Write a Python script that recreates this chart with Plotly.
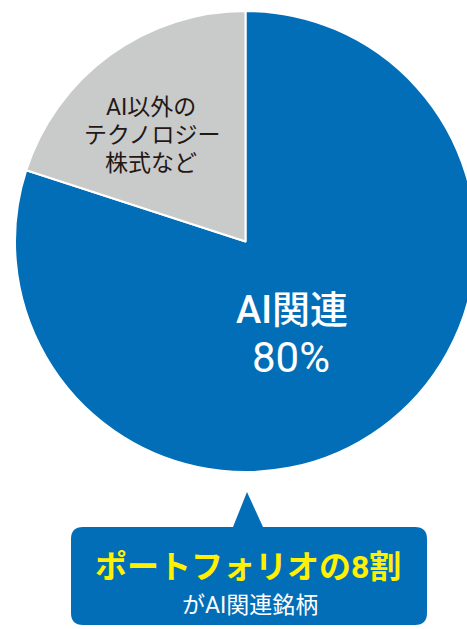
import plotly.graph_objects as go

# ---- data ----
categories = ["AI関連", "AI以外のテクノロジー株式など"]
values = [80, 20]
colors = ["#036EB8", "#C9CACA"]

label_ai_lines = ["AI関連", "80%"]
label_other_lines = ["AI以外の", "テクノロジー", "株式など"]
callout_main = "ポートフォリオの8割"
callout_sub = "がAI関連銘柄"

W, H = 476, 629
FONT = "Roboto, 'Noto Sans CJK JP'"


def px(x):
    return x / W


def py(y):
    return 1 - y / H


# pie geometry (pixels)
cx, cy, r = 245.5, 241.5, 230.5

fig = go.Figure()
fig.add_trace(go.Pie(
    labels=categories,
    values=values,
    sort=False,
    direction="clockwise",
    rotation=0,
    marker=dict(colors=colors, line=dict(color="white", width=2)),
    textinfo="none",
    hoverinfo="label+percent",
    showlegend=False,
    domain=dict(x=[px(cx - r), px(cx + r)], y=[py(cy + r), py(cy - r)]),
))

# callout box with pointer
L, R, T, B, rad = 71, 427, 527, 625, 12
tx0, tx1, tapx, tapy = 233, 263, 247, 492
path = (
    f"M {px(L+rad)},{py(T)} L {px(tx0)},{py(T)} L {px(tapx)},{py(tapy)} L {px(tx1)},{py(T)} "
    f"L {px(R-rad)},{py(T)} Q {px(R)},{py(T)} {px(R)},{py(T+rad)} "
    f"L {px(R)},{py(B-rad)} Q {px(R)},{py(B)} {px(R-rad)},{py(B)} "
    f"L {px(L+rad)},{py(B)} Q {px(L)},{py(B)} {px(L)},{py(B-rad)} "
    f"L {px(L)},{py(T+rad)} Q {px(L)},{py(T)} {px(L+rad)},{py(T)} Z"
)
fig.add_shape(type="path", path=path, xref="paper", yref="paper",
              fillcolor="#036EB8", line=dict(width=0), layer="above")

ann = [
    dict(text=label_ai_lines[0], x=292, y=310, size=38, color="white", weight=500),
    dict(text=label_ai_lines[1], x=291, y=357, size=42, color="white", weight=400),
    dict(text=label_other_lines[0], x=151, y=107, size=23, color="#231815", weight=400),
    dict(text=label_other_lines[1], x=152, y=135, size=23, color="#231815", weight=400),
    dict(text=label_other_lines[2], x=151, y=163, size=23, color="#231815", weight=400),
    dict(text=callout_main, x=248, y=567, size=32, color="#FFF100", weight=700),
    dict(text=callout_sub, x=250, y=605, size=23, color="white", weight=400),
]
for a in ann:
    fig.add_annotation(text=a["text"], x=px(a["x"]), y=py(a["y"]), xref="paper", yref="paper",
                       showarrow=False, xanchor="center", yanchor="middle",
                       font=dict(family=FONT, size=a["size"], color=a["color"], weight=a["weight"]))

fig.update_layout(
    width=W, height=H,
    margin=dict(l=0, r=0, t=0, b=0),
    paper_bgcolor="white",
    plot_bgcolor="white",
    font=dict(family=FONT),
)

fig.write_html(
    "out.html",
    config={"displayModeBar": False},
    post_script="document.body.style.margin='0';document.body.style.overflow='hidden';document.documentElement.style.overflow='hidden';",
)
